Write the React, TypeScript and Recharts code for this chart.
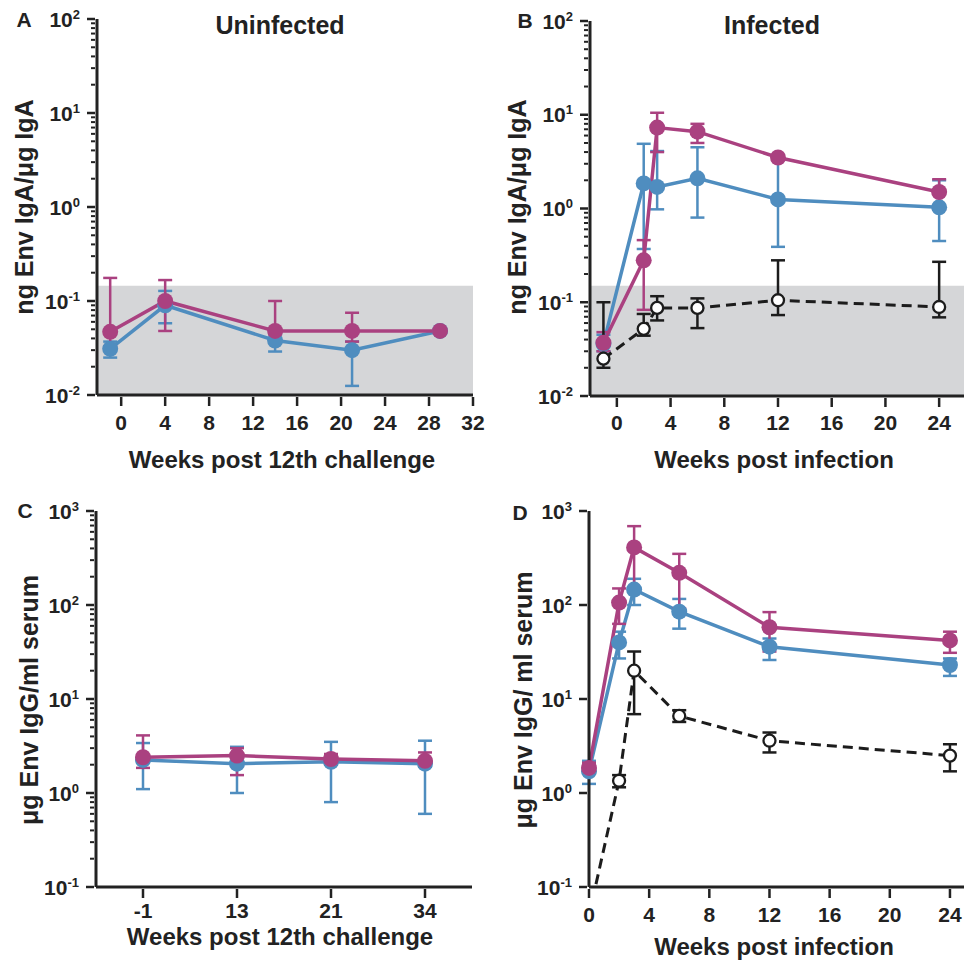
import React from 'react'
import { ComposedChart, Line, XAxis, YAxis, ErrorBar, ReferenceArea } from 'recharts'

const PINK = '#aa4180'
const BLUE = '#4f8dbf'
const BLACK = '#1c1c1c'
const AXIS = '#222'
const BAND = '#d5d6d8'
const FONT = '"Liberation Sans", Arial, Helvetica, sans-serif'

// A - uninfected, mucosal IgA
const weeksA = [-1, 4, 14, 21, 29]
const aPink = [0.047, 0.1, 0.048, 0.048, 0.048]
const aPinkLo = [0.033, 0.048, 0.044, 0.037, null]
const aPinkHi = [0.176, 0.167, 0.1, 0.075, null]
const aBlue = [0.031, 0.09, 0.038, 0.03, 0.048]
const aBlueLo = [0.025, 0.058, 0.029, 0.0125, null]
const aBlueHi = [0.037, 0.128, 0.045, 0.037, null]

// B - infected, mucosal IgA
const weeksB = [-1, 2, 3, 6, 12, 24]
const bPink = [0.037, 0.28, 7.3, 6.6, 3.5, 1.5]
const bPinkLo = [0.03, 0.083, 4.0, 5.0, null, 0.97]
const bPinkHi = [0.048, 0.46, 10.5, 8.0, null, 2.05]
const bBlue = [0.036, 1.85, 1.7, 2.1, 1.25, 1.03]
const bBlueLo = [0.03, 0.37, 0.98, 0.8, 0.39, 0.45]
const bBlueHi = [0.045, 4.9, 4.1, 4.5, 3.3, 2.0]
const bBlack = [0.025, 0.052, 0.087, 0.087, 0.105, 0.089]
const bBlackLo = [0.02, 0.044, 0.064, 0.053, 0.073, 0.069]
const bBlackHi = [0.1, 0.075, 0.116, 0.11, 0.28, 0.27]

// C - uninfected, serum IgG
const weeksC = ['-1', '13', '21', '34']
const cPink = [2.4, 2.5, 2.3, 2.2]
const cPinkLo = [1.85, 1.55, 2.0, 1.9]
const cPinkHi = [4.1, 3.0, 2.6, 2.7]
const cBlue = [2.25, 2.05, 2.15, 2.05]
const cBlueLo = [1.1, 1.0, 0.8, 0.6]
const cBlueHi = [3.4, 3.1, 3.5, 3.6]

// D - infected, serum IgG
const weeksD = [0, 2, 3, 6, 12, 24]
const dPink = [1.85, 106, 410, 220, 58, 42]
const dPinkLo = [1.6, 63, 140, 92, 32, 31]
const dPinkHi = [2.1, 150, 690, 350, 84, 52]
const dBlue = [1.7, 40, 146, 85, 36, 23]
const dBlueLo = [1.25, 27, 100, 56, 26, 17.6]
const dBlueHi = [2.2, 52, 190, 116, 44, 27]
const dBlack = [0.05, 1.35, 20, 6.6, 3.6, 2.5]
const dBlackLo = [null, 1.15, 6.9, 5.7, 2.7, 1.7]
const dBlackHi = [null, 1.55, 32, 7.6, 4.4, 3.3]

const ticksA = [0, 4, 8, 12, 16, 20, 24, 28, 32]
const ticksB = [0, 4, 8, 12, 16, 20, 24]
const ticksD = [0, 4, 8, 12, 16, 20, 24]
const decadesIgA = [-2, -1, 0, 1]
const decadesIgG = [-1, 0, 1, 2]

type Set = [string, number[], (number | null)[], (number | null)[]]

const makeRows = (xs: (number | string)[], sets: Set[]) =>
  xs.map((x, i) => {
    const r: any = { x }
    for (const [key, mean, lo, hi] of sets) {
      const v = mean[i]
      r[key] = v
      const l = lo[i]
      const h = hi[i]
      r[key + 'Err'] = l == null || h == null ? null : [v - l, h - v]
    }
    return r
  })

const logTicks = (decades: number[], minor: boolean) => {
  const out: number[] = []
  decades.forEach((d) => {
    const base = Math.pow(10, d)
    const ms = minor ? [1, 2, 3, 4, 5, 6, 7, 8, 9] : [1]
    ms.forEach((m) => out.push(+(m * base).toPrecision(6)))
  })
  out.push(Math.pow(10, decades[decades.length - 1] + 1))
  return out
}

const dataA = makeRows(weeksA, [['pink', aPink, aPinkLo, aPinkHi], ['blue', aBlue, aBlueLo, aBlueHi]])
const dataB = makeRows(weeksB, [
  ['pink', bPink, bPinkLo, bPinkHi],
  ['blue', bBlue, bBlueLo, bBlueHi],
  ['black', bBlack, bBlackLo, bBlackHi],
])
const dataC = makeRows(weeksC, [['pink', cPink, cPinkLo, cPinkHi], ['blue', cBlue, cBlueLo, cBlueHi]])
const dataD = makeRows(weeksD, [
  ['pink', dPink, dPinkLo, dPinkHi],
  ['blue', dBlue, dBlueLo, dBlueHi],
  ['black', dBlack, dBlackLo, dBlackHi],
])

const LogTick = (props: any) => {
  const { x, y, payload } = props
  const v = payload.value
  const lg = Math.log10(v)
  const e = Math.round(lg)
  const major = Math.abs(lg - e) < 1e-6
  if (!major) return <line x1={x} x2={x - 4} y1={y} y2={y} stroke={AXIS} strokeWidth={2} />
  return (
    <g>
      <line x1={x} x2={x - 8} y1={y} y2={y} stroke={AXIS} strokeWidth={2.5} />
      <text x={x - 15} y={y + 7.5} textAnchor="end" fontSize={21} fontWeight="bold" fill={AXIS} fontFamily={FONT}>
        <tspan>10</tspan>
        <tspan fontSize={13} dy={-8}>{e < 0 ? '-' + Math.abs(e) : String(e)}</tspan>
      </text>
    </g>
  )
}

const XTick = (props: any) => {
  const { x, y, payload, gap } = props
  return (
    <g>
      <line x1={x} x2={x} y1={y} y2={y + 9} stroke={AXIS} strokeWidth={2.5} />
      <text x={x} y={y + gap} textAnchor="middle" fontSize={21} fontWeight="bold" fill={AXIS} fontFamily={FONT}>
        {payload.value}
      </text>
    </g>
  )
}

const txt = { fontWeight: 'bold' as const, fill: AXIS, fontFamily: FONT }

const yLabel = (letter: string, lx: number, ly: number, title: string | null, tx: number, text: string, yx: number, yy: number) => () => (
  <g>
    <text x={lx} y={ly} textAnchor="middle" fontSize={21} {...txt}>{letter}</text>
    {title && <text x={tx} y={34} textAnchor="middle" fontSize={25} {...txt}>{title}</text>}
    <text x={yx} y={yy} textAnchor="middle" fontSize={25} transform={`rotate(-90, ${yx}, ${yy})`} {...txt}>{text}</text>
  </g>
)

const xLabel = (text: string, x: number, y: number) => () => (
  <text x={x} y={y} textAnchor="middle" fontSize={24} {...txt}>{text}</text>
)

const axisLine = { stroke: AXIS, strokeWidth: 3 }

const series = (key: string, color: string, clipDot = true) => (
  <Line
    key={key}
    type="linear"
    dataKey={key}
    stroke={color}
    strokeWidth={3.5}
    dot={{ r: 8, fill: color, stroke: color, strokeWidth: 0, clipDot } as any}
    activeDot={false}
    isAnimationActive={false}
  >
    <ErrorBar dataKey={key + 'Err'} width={7} stroke={color} strokeWidth={2.5} direction="y" isAnimationActive={false} />
  </Line>
)

const dashed = () => (
  <Line
    key="black"
    type="linear"
    dataKey="black"
    stroke={BLACK}
    strokeWidth={3}
    strokeDasharray="10 6"
    dot={{ r: 6, fill: '#fff', stroke: BLACK, strokeWidth: 2.3, strokeDasharray: '0' } as any}
    activeDot={false}
    isAnimationActive={false}
  >
    <ErrorBar dataKey="blackErr" width={7} stroke={BLACK} strokeWidth={2.5} direction="y" isAnimationActive={false} />
  </Line>
)

function PanelA() {
  return (
    <ComposedChart width={494} height={480} data={dataA} margin={{ top: 19, right: 21, bottom: 55, left: 37 }}>
      <ReferenceArea x1={-2.2} x2={32} y1={0.01} y2={0.145} fill={BAND} fillOpacity={1} stroke="none" />
      <XAxis type="number" dataKey="x" domain={[-2.2, 32]} ticks={ticksA} interval={0} height={30}
        tickSize={0} tickLine={false} axisLine={axisLine} tick={(p: any) => <XTick {...p} gap={32.5} />}
        label={xLabel('Weeks post 12th challenge', 282, 468)} />
      <YAxis type="number" scale="log" domain={[0.01, 100]} ticks={logTicks(decadesIgA, true)} interval={0} width={60}
        allowDataOverflow tickSize={0} tickLine={false} axisLine={axisLine} tick={LogTick}
        label={yLabel('A', 24, 27, 'Uninfected', 280, 'ng Env IgA/\u03bcg IgA', 33, 207)} />
      {series('blue', BLUE)}
      {series('pink', PINK)}
    </ComposedChart>
  )
}

function PanelB() {
  return (
    <ComposedChart width={484} height={480} data={dataB} margin={{ top: 21, right: 0, bottom: 54, left: 48 }}>
      <ReferenceArea x1={-2} x2={26} y1={0.01} y2={0.15} fill={BAND} fillOpacity={1} stroke="none" />
      <XAxis type="number" dataKey="x" domain={[-2, 26]} ticks={ticksB} interval={0} height={30}
        tickSize={0} tickLine={false} axisLine={axisLine} tick={(p: any) => <XTick {...p} gap={31.5} />}
        label={xLabel('Weeks post infection', 292, 468)} />
      <YAxis type="number" scale="log" domain={[0.01, 100]} ticks={logTicks(decadesIgA, true)} interval={0} width={60}
        allowDataOverflow tickSize={0} tickLine={false} axisLine={axisLine} tick={LogTick}
        label={yLabel('B', 43, 28, 'Infected', 290, 'ng Env IgA/\u03bcg IgA', 44, 207)} />
      {series('blue', BLUE)}
      {series('pink', PINK)}
      {dashed()}
    </ComposedChart>
  )
}

function PanelC() {
  return (
    <ComposedChart width={482} height={478} data={dataC} margin={{ top: 21, right: 10, bottom: 51, left: 36 }}>
      <XAxis type="category" dataKey="x" scale="band" interval={0} height={30}
        tickSize={0} tickLine={false} axisLine={axisLine} tick={(p: any) => <XTick {...p} gap={29} />}
        label={xLabel('Weeks post 12th challenge', 280, 455)} />
      <YAxis type="number" scale="log" domain={[0.1, 1000]} ticks={logTicks(decadesIgG, true)} interval={0} width={60}
        allowDataOverflow tickSize={0} tickLine={false} axisLine={axisLine} tick={LogTick}
        label={yLabel('C', 25, 28, null, 0, '\u03bcg Env IgG/ml serum', 38, 210)} />
      {series('blue', BLUE)}
      {series('pink', PINK)}
    </ComposedChart>
  )
}

function PanelD() {
  return (
    <ComposedChart width={484} height={478} data={dataD} margin={{ top: 21, right: 1, bottom: 51, left: 47 }}>
      <XAxis type="number" dataKey="x" domain={[0, 25]} ticks={ticksD} interval={0} height={30}
        tickSize={0} tickLine={false} axisLine={axisLine} tick={(p: any) => <XTick {...p} gap={32.5} />}
        label={xLabel('Weeks post infection', 292, 465)} />
      <YAxis type="number" scale="log" domain={[0.1, 1000]} ticks={logTicks(decadesIgG, false)} interval={0} width={60}
        allowDataOverflow tickSize={0} tickLine={false} axisLine={axisLine} tick={LogTick}
        label={yLabel('D', 38, 30, null, 0, '\u03bcg Env IgG/ ml serum', 50, 210)} />
      {series('blue', BLUE, false)}
      {series('pink', PINK, false)}
      {dashed()}
    </ComposedChart>
  )
}

export default function App() {
  return (
    <div style={{ position: 'absolute', left: 0, top: 0, width: 964, height: 968, overflow: 'hidden', background: '#fff', fontFamily: FONT }}>
      <div style={{ position: 'absolute', left: 0, top: 0 }}><PanelA /></div>
      <div style={{ position: 'absolute', left: 482, top: 0 }}><PanelB /></div>
      <div style={{ position: 'absolute', left: 0, top: 490 }}><PanelC /></div>
      <div style={{ position: 'absolute', left: 482, top: 490 }}><PanelD /></div>
    </div>
  )
}
